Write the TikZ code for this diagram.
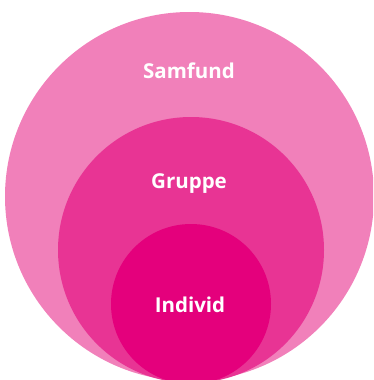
\documentclass[tikz,border=0pt]{standalone}
\usepackage{fontspec}
\setmainfont{Open Sans}
\usepackage{tikz}
\usetikzlibrary{positioning}
\definecolor{outerpink}{RGB}{241,128,186}
\definecolor{midpink}{RGB}{232,52,148}
\definecolor{innerpink}{RGB}{228,0,124}

\begin{document}
\begin{tikzpicture}
[x=1pt, y=-1pt,
% STYLES
% The ring style is used to draw the nested circles
ring/.style={circle, inner sep=0pt, outer sep=0pt},
% The ringtext style is used to write the name of each level
ringtext/.style={text=white, inner sep=0pt, font=\bfseries\fontsize{20.5}{25}\selectfont}]

\useasboundingbox (0,0) rectangle (373,380);
\clip (0,0) rectangle (373,380);

% Draw circles
\node [ring, fill=outerpink, minimum size=369pt] (samfund) at (189.5,196.5) {};
\node [ring, fill=midpink, minimum size=266pt] (gruppe) at (191,250) {};
\node [ring, fill=innerpink, minimum size=160pt] (individ) at (191,304) {};

% Names
\node [ringtext] (samfund-text) at (189,71) {Samfund};
\node [ringtext] (gruppe-text) at (189,184) {Gruppe};
\node [ringtext] (individ-text) at (190,305) {Individ};

\end{tikzpicture}
\end{document}
